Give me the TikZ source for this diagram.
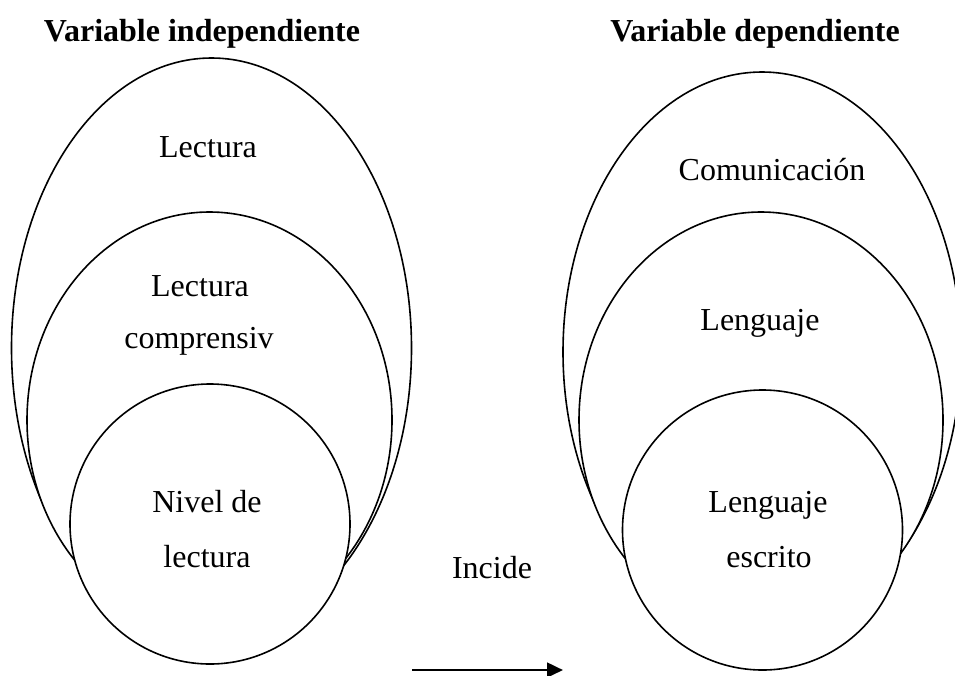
\documentclass[tikz,border=0pt]{standalone}
\usepackage{fontspec}
\setmainfont{Liberation Serif}
\usetikzlibrary{arrows.meta, shapes.geometric}

\begin{document}
\begin{tikzpicture}[x=0.75pt, y=-0.75pt, >={Triangle[length=12pt, width=11pt]}]
		\tikzstyle{oval} = [draw=black, line width=1.2pt, ellipse, fill=white, inner sep=0pt]
		\tikzstyle{round} = [draw=black, line width=1.2pt, circle, fill=white, inner sep=0pt, minimum size=210pt]
		\tikzstyle{lbl} = [draw=none, anchor=base, font=\fontsize{24}{28}\selectfont]
		\tikzstyle{head} = [lbl, font=\fontsize{24}{28}\selectfont\bfseries]

		\useasboundingbox (0, 0) rectangle (955, 675);

		% variable independiente
		\node[oval, minimum width=300pt, minimum height=435pt] 	at (211.5, 348) 	(vi1) 	{};
		\node[oval, minimum width=273.75pt, minimum height=312pt] 	at (209.5, 420) 	(vi2) 	{};
		\node[round] 	at (210, 524) 	(vi3) 	{};

		% variable dependiente
		\node[oval, minimum width=298.5pt, minimum height=420pt] 	at (762, 352) 	(vd1) 	{};
		\node[oval, minimum width=273pt, minimum height=312pt] 	at (761, 420) 	(vd2) 	{};
		\node[round] 	at (762.5, 530) 	(vd3) 	{};

		\node[head] 	at (202, 41) 	(ti) 	{Variable independiente};
		\node[head] 	at (755, 41) 	(td) 	{Variable dependiente};

		\node[lbl] 	at (208, 157) 	(l1) 	{Lectura};
		\node[lbl] 	at (200, 296) 	(l2) 	{Lectura};
		\node[lbl] 	at (199, 348) 	(l3) 	{comprensiv};
		\node[lbl] 	at (207, 512) 	(l4) 	{Nivel de};
		\node[lbl] 	at (207, 567) 	(l5) 	{lectura};

		\node[lbl] 	at (772, 180) 	(d1) 	{Comunicación};
		\node[lbl] 	at (760, 330) 	(d2) 	{Lenguaje};
		\node[lbl] 	at (768, 512) 	(d3) 	{Lenguaje};
		\node[lbl] 	at (769, 567) 	(d4) 	{escrito};

		\node[lbl] 	at (492, 578) 	(inc) 	{Incide};

		\coordinate (a0) at (412, 670);
		\coordinate (a1) at (563, 670);
		\path[->, line width=2pt]
		(a0)	edge	(a1);
\end{tikzpicture}
\end{document}
